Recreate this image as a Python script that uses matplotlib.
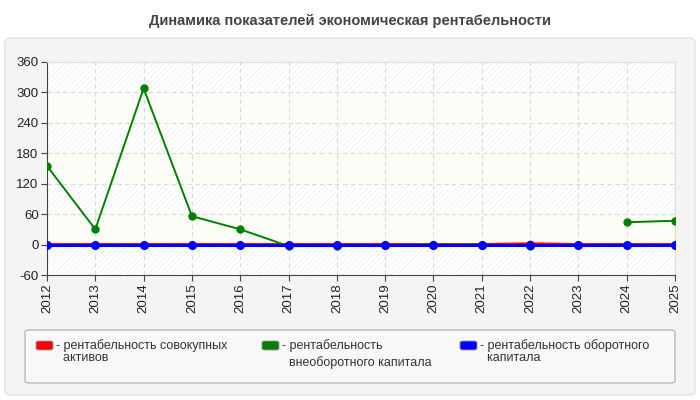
import numpy as np
import matplotlib.pyplot as plt
from matplotlib.patches import FancyBboxPatch

plt.rcParams['font.family'] = ['Liberation Sans', 'DejaVu Sans']
plt.rcParams['hatch.linewidth'] = 0.5

years = [str(y) for y in range(2012, 2026)]
assets = [0, 0, 0, 0, 0, 0, 0, 0, 0, 0, 1.5, 0, 0, 0]
noncurrent = [155, 30, 308, 56, 30, -3, -3, -1, 0, 0, -3, np.nan, 44, 47]
current = [0] * 14

labels = ["- рентабельность совокупных\n  активов",
          "- рентабельность\n  внеоборотного капитала",
          "- рентабельность оборотного\n  капитала"]
colors = ["#ff0000", "#008000", "#0000ff"]
yticks = [-60, 0, 60, 120, 180, 240, 300, 360]

fig = plt.figure(figsize=(7, 4), dpi=100)
fig.patch.set_facecolor("white")

# outer panel
panel = FancyBboxPatch((5 / 700, 5 / 400), 690 / 700, 357 / 400,
                       boxstyle="round,pad=0,rounding_size=0.01",
                       transform=fig.transFigure, facecolor="#f4f4f4",
                       edgecolor="#e2e2e2", linewidth=1, zorder=-5)
fig.patches.append(panel)

fig.text(0.5, 0.948, "Динамика показателей экономическая рентабельности",
         ha="center", va="center", fontsize=10.5, fontweight="bold", color="#444444")

ax = fig.add_axes([47 / 700, 125 / 400, 628 / 700, 213 / 400])
ax.set_zorder(2)
x = np.arange(len(years))
ax.set_xlim(0, len(years) - 1)
ax.set_ylim(-60, 360)
ax.set_facecolor("white")

# alternating bands
for i in range(len(yticks) - 1):
    lo, hi = yticks[i], yticks[i + 1]
    if i % 2 == 0:
        ax.axhspan(lo, hi, facecolor="white", edgecolor="#f0f0f0",
                   hatch="//////", linewidth=0, zorder=0)
    else:
        ax.axhspan(lo, hi, facecolor="#fdfdf7", linewidth=0, zorder=0)

ax.grid(True, color="#d8d8d8", linestyle=(0, (4, 3)), linewidth=0.8)
ax.set_axisbelow(True)

ax.plot(x, assets, color=colors[0], marker="o", markersize=4.5, linewidth=2.2, zorder=3)
ax.plot(x, noncurrent, color=colors[1], marker="o", markersize=5, linewidth=1.4, zorder=4)
ax.plot(x, current, color=colors[2], marker="o", markersize=5.5, linewidth=2.2, zorder=5)

ax.set_xticks(x)
ax.set_xticklabels(years, rotation=90, fontsize=9.5, color="#222222")
ax.set_yticks(yticks)
ax.set_yticklabels([str(v) for v in yticks], fontsize=9.5, color="#222222")
ax.tick_params(length=4, color="#444444", pad=2)
for s in ["left", "bottom"]:
    ax.spines[s].set_color("#444444")
for s in ["top", "right"]:
    ax.spines[s].set_color("#dddddd")

# legend box
lb = FancyBboxPatch((25 / 700, 17 / 400), 650 / 700, 53 / 400,
                    boxstyle="round,pad=0,rounding_size=0.006",
                    transform=fig.transFigure, facecolor="#f8f8f8",
                    edgecolor="#aaaaaa", linewidth=0.8, zorder=-4)
fig.patches.append(lb)
xs = [36, 262, 460]
spacing = [1.0, 1.45, 1.0]
for xp, lab, c, ls in zip(xs, labels, colors, spacing):
    sw = FancyBboxPatch((xp / 700, 50 / 400), 17 / 700, 9 / 400,
                        boxstyle="round,pad=0,rounding_size=0.004",
                        transform=fig.transFigure, facecolor=c,
                        edgecolor="#999999", linewidth=0.6, zorder=-3)
    fig.patches.append(sw)
    fig.text((xp + 20) / 700, 61 / 400, lab, ha="left", va="top",
             fontsize=9, color="#333333", linespacing=ls)

fig.savefig("out.png", dpi=100, facecolor=fig.get_facecolor())
